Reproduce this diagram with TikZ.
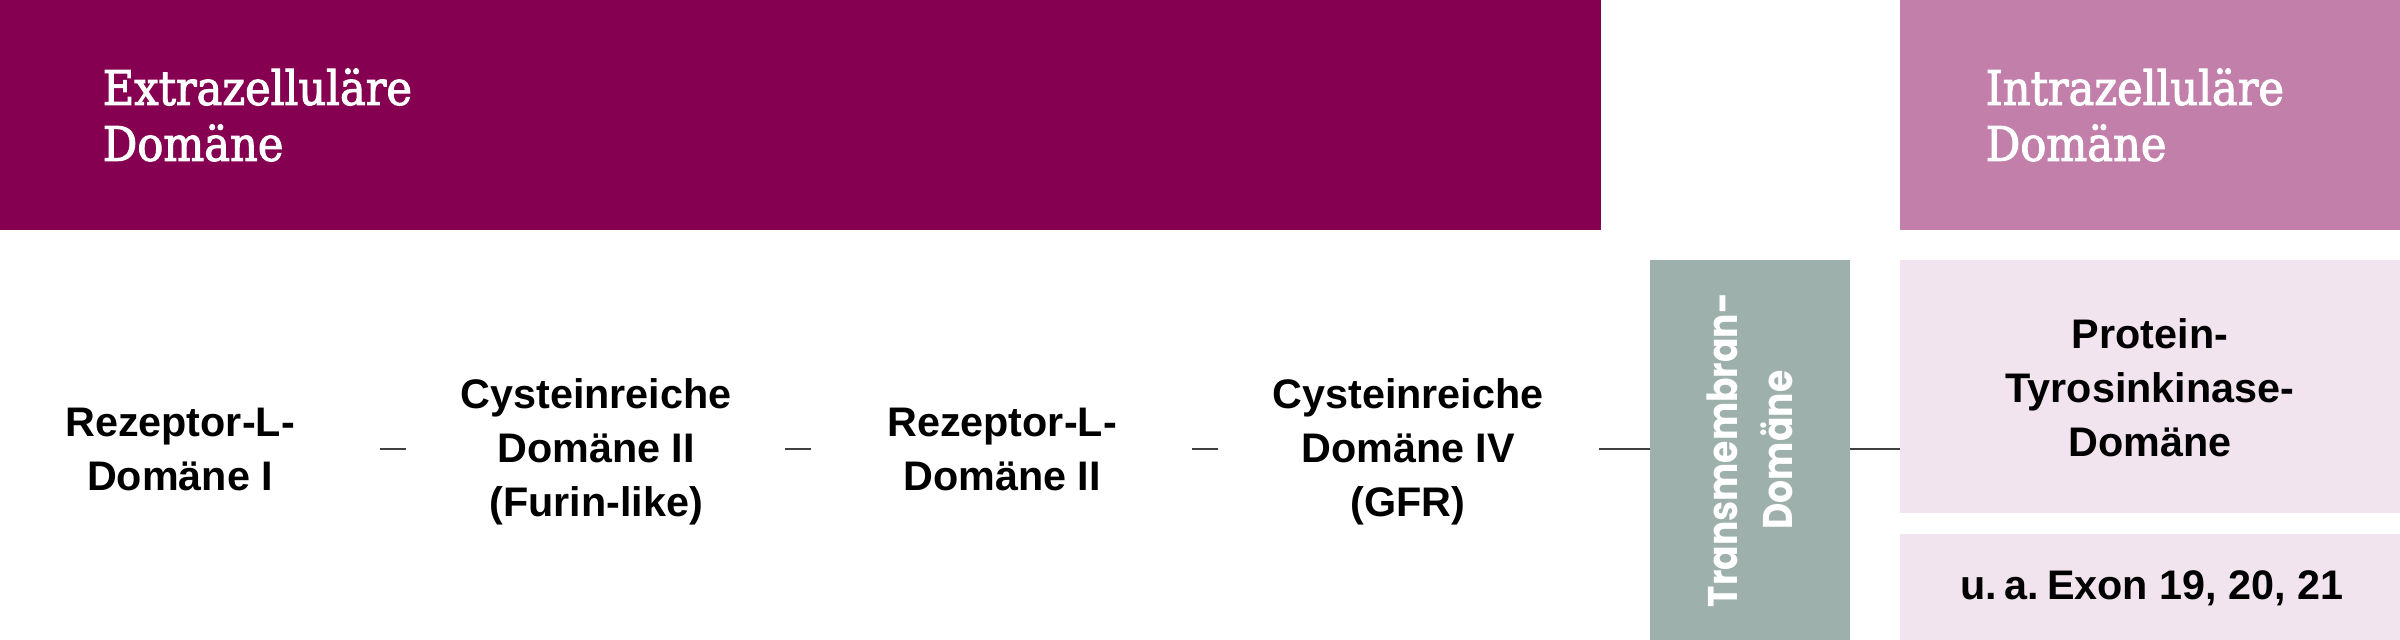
\documentclass[tikz,border=0pt]{standalone}
\usepackage{fontspec}
\setmainfont{Liberation Sans}
\newfontfamily\hdfont[FakeStretch=0.91,FakeBold=2.2]{DejaVu Serif}
\newfontfamily\tmfont[FakeStretch=0.87]{Poppins}
\usetikzlibrary{calc}
\definecolor{extraC}{HTML}{850050}
\definecolor{intraC}{HTML}{C27FAA}
\definecolor{tmC}{HTML}{9EB0AB}
\definecolor{lightC}{HTML}{F2E4EE}
\definecolor{lineC}{HTML}{404040}
\tikzset{
  boxnode/.style={inner sep=0pt, outer sep=0pt, anchor=north west},
  headtext/.style={text=white, font=\hdfont\fontsize{13.5pt}{15.9pt}\selectfont, align=left, inner sep=0pt, anchor=west},
  bodytext/.style={text=black, font=\bfseries\fontsize{11.75pt}{15.36pt}\selectfont, align=center, inner sep=0pt},
  conn/.style={draw=lineC, line width=0.57pt},
}
\begin{document}
\begin{tikzpicture}[x=0.01cm,y=-0.01cm]
\useasboundingbox (0,0) rectangle (2400,640);
% header boxes
\node[boxnode, fill=extraC, minimum width=16cm, minimum height=2.3cm] (extra) at (0,0) {};
\node[boxnode, fill=intraC, minimum width=5cm, minimum height=2.3cm] (intra) at (1900,0) {};
\node[headtext] (extraT) at (102,115) {Extrazelluläre\\Domäne};
\node[headtext] (intraT) at (1985,115) {Intrazelluläre\\Domäne};
% transmembrane
\node[boxnode, fill=tmC, minimum width=2cm, minimum height=3.8cm] (tm) at (1650,260) {};
\node[text=white, font=\tmfont\bfseries\fontsize{11.8pt}{15.6pt}\selectfont, align=center, inner sep=0pt, rotate=90] (tmT) at (1750,450) {Transmembran-\\Domäne};
% kinase boxes
\node[boxnode, fill=lightC, minimum width=5cm, minimum height=2.53cm] (ptk) at (1900,260) {};
\node[boxnode, fill=lightC, minimum width=5cm, minimum height=1.06cm] (exon) at (1900,534) {};
\node[bodytext] (ptkT) at (2150,388) {Protein-\\Tyrosinkinase-\\Domäne};
\node[bodytext] (exonT) at (2152,588) {u.\hspace{0.17em}a.\hspace{0.2em}Exon 19, 20, 21};
% extracellular columns
\node[bodytext] (c1) at (180,449) {Rezeptor-L-\\Domäne I};
\node[bodytext] (c2) at (596,452) {Cysteinreiche\\Domäne II\\(Furin-like)};
\node[bodytext] (c3) at (1002,449) {Rezeptor-L-\\Domäne II};
\node[bodytext] (c4) at (1408,452) {Cysteinreiche\\Domäne IV\\(GFR)};
% connector end points
\coordinate (d1a) at (380,449);  \coordinate (d1b) at (406,449);
\coordinate (d2a) at (785,449);  \coordinate (d2b) at (811,449);
\coordinate (d3a) at (1192,449); \coordinate (d3b) at (1218,449);
\coordinate (exEnd) at (1599,449);
\draw[conn] (d1a) -- (d1b);
\draw[conn] (d2a) -- (d2b);
\draw[conn] (d3a) -- (d3b);
\draw[conn] (exEnd) -- (exEnd -| tm.west);
\draw[conn] (exEnd -| tm.east) -- (exEnd -| ptk.west);
\end{tikzpicture}
\end{document}
